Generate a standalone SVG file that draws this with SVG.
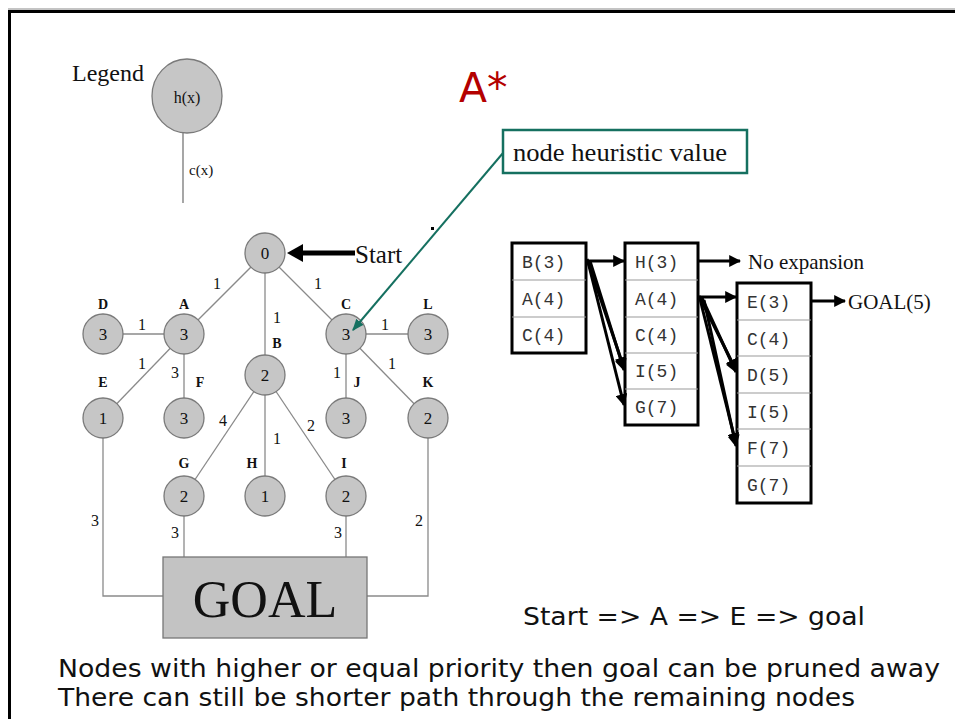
<svg xmlns="http://www.w3.org/2000/svg" width="955" height="719" viewBox="0 0 955 719">
  <style>
    .serif { font-family: "Liberation Serif", "Times New Roman", serif; fill: #111; }
    .sans { font-family: "DejaVu Sans", Verdana, sans-serif; fill: #111; }
    .mono { font-family: "Liberation Mono", "Courier New", monospace; fill: #333; font-size: 18px; }
    .node circle { fill: #c6c6c6; stroke: #7a7a7a; stroke-width: 1.3; }
    .node .val { font-size: 17px; text-anchor: middle; }
    .node .name { font-size: 14px; font-weight: bold; text-anchor: middle; }
    .edge { stroke: #8a8a8a; stroke-width: 1.3; fill: none; }
    .cost { font-size: 16px; text-anchor: middle; fill: #111; }
    .qbox { fill: #fff; stroke: #000; stroke-width: 3; }
    .qdiv { stroke: #999; stroke-width: 1; }
    .qarrow { stroke: #000; stroke-width: 3; fill: none; marker-end: url(#head); }
  </style>
  <defs>
    <marker id="head" viewBox="0 0 10 10" refX="9" refY="5" markerWidth="4" markerHeight="4" orient="auto" markerUnits="strokeWidth">
      <path d="M0,0 L10,5 L0,10 z" fill="#000"/>
    </marker>
    <marker id="greenhead" viewBox="0 0 10 10" refX="9" refY="5" markerWidth="6" markerHeight="6" orient="auto" markerUnits="strokeWidth">
      <path d="M0,1 L10,5 L0,9 z" fill="#157060"/>
    </marker>
  </defs>

  <!-- slide frame -->
  <rect x="9.5" y="11.5" width="1000" height="800" fill="#fff" stroke="#000" stroke-width="3"/>
  <line x1="8" y1="9" x2="955" y2="9" stroke="#888" stroke-width="1"/>

  <!-- title -->
  <text x="459" y="102" font-family="DejaVu Sans, Verdana, sans-serif" font-size="41" fill="#b40000">A*</text>

  <!-- legend -->
  <g id="legend">
    <text class="serif" x="72" y="81" font-size="24">Legend</text>
    <line x1="183" y1="133" x2="183" y2="203" stroke="#777" stroke-width="1.3"/>
    <ellipse cx="187" cy="96" rx="35" ry="37" fill="#c6c6c6" stroke="#7a7a7a" stroke-width="1.3"/>
    <text class="serif" x="187" y="103" font-size="16" text-anchor="middle">h(x)</text>
    <text class="serif" x="189" y="175" font-size="15">c(x)</text>
  </g>

  <!-- tree edges -->
  <g id="edges">
    <line class="edge" x1="265" y1="253" x2="184" y2="334"/>
    <line class="edge" x1="265" y1="253" x2="265" y2="375"/>
    <line class="edge" x1="265" y1="253" x2="346" y2="334"/>
    <line class="edge" x1="103" y1="334" x2="184" y2="334"/>
    <line class="edge" x1="184" y1="334" x2="103" y2="418"/>
    <line class="edge" x1="184" y1="334" x2="184" y2="418"/>
    <line class="edge" x1="346" y1="334" x2="428" y2="334"/>
    <line class="edge" x1="346" y1="334" x2="346" y2="418"/>
    <line class="edge" x1="346" y1="334" x2="428" y2="418"/>
    <line class="edge" x1="265" y1="375" x2="184" y2="496"/>
    <line class="edge" x1="265" y1="375" x2="265" y2="496"/>
    <line class="edge" x1="265" y1="375" x2="346" y2="496"/>
    <polyline class="edge" points="103,418 103,596 163,596"/>
    <polyline class="edge" points="428,418 428,596 367,596"/>
    <line class="edge" x1="184" y1="496" x2="184" y2="557"/>
    <line class="edge" x1="346" y1="496" x2="346" y2="557"/>

    <!-- edge costs -->
    <g class="serif">
      <text class="cost" x="217" y="289">1</text>
      <text class="cost" x="318" y="289">1</text>
      <text class="cost" x="277" y="323">1</text>
      <text class="cost" x="142" y="330">1</text>
      <text class="cost" x="385" y="330">1</text>
      <text class="cost" x="142" y="369">1</text>
      <text class="cost" x="175" y="378">3</text>
      <text class="cost" x="337" y="378">1</text>
      <text class="cost" x="392" y="369">1</text>
      <text class="cost" x="223" y="426">4</text>
      <text class="cost" x="311" y="431">2</text>
      <text class="cost" x="277" y="444">1</text>
      <text class="cost" x="95" y="526">3</text>
      <text class="cost" x="419" y="526">2</text>
      <text class="cost" x="175" y="538">3</text>
      <text class="cost" x="338" y="538">3</text>
    </g>

    <!-- start pointer -->
    <line x1="355" y1="253" x2="300" y2="253" stroke="#000" stroke-width="5"/>
    <polygon points="287,253 303,244 303,262" fill="#000"/>
  </g>

  <!-- tree nodes -->
  <g id="node-start" class="node serif">
    <circle cx="265" cy="253" r="20"/>
    <text class="val" x="265" y="259">0</text>
    <text x="355" y="263" font-size="25">Start</text>
  </g>
  <g id="node-a" class="node serif">
    <circle cx="184" cy="334" r="20"/>
    <text class="val" x="184" y="340">3</text>
    <text class="name" x="184" y="309">A</text>
  </g>
  <g id="node-b" class="node serif">
    <circle cx="265" cy="375" r="20"/>
    <text class="val" x="265" y="381">2</text>
    <text class="name" x="277" y="348">B</text>
  </g>
  <g id="node-c" class="node serif">
    <circle cx="346" cy="334" r="20"/>
    <text class="val" x="346" y="340">3</text>
    <text class="name" x="346" y="309">C</text>
  </g>
  <g id="node-d" class="node serif">
    <circle cx="103" cy="334" r="20"/>
    <text class="val" x="103" y="340">3</text>
    <text class="name" x="103" y="309">D</text>
  </g>
  <g id="node-l" class="node serif">
    <circle cx="428" cy="334" r="20"/>
    <text class="val" x="428" y="340">3</text>
    <text class="name" x="428" y="309">L</text>
  </g>
  <g id="node-e" class="node serif">
    <circle cx="103" cy="418" r="20"/>
    <text class="val" x="103" y="424">1</text>
    <text class="name" x="103" y="387">E</text>
  </g>
  <g id="node-f" class="node serif">
    <circle cx="184" cy="418" r="20"/>
    <text class="val" x="184" y="424">3</text>
    <text class="name" x="200" y="387">F</text>
  </g>
  <g id="node-j" class="node serif">
    <circle cx="346" cy="418" r="20"/>
    <text class="val" x="346" y="424">3</text>
    <text class="name" x="357" y="387">J</text>
  </g>
  <g id="node-k" class="node serif">
    <circle cx="428" cy="418" r="20"/>
    <text class="val" x="428" y="424">2</text>
    <text class="name" x="428" y="387">K</text>
  </g>
  <g id="node-g" class="node serif">
    <circle cx="184" cy="496" r="20"/>
    <text class="val" x="184" y="502">2</text>
    <text class="name" x="184" y="468">G</text>
  </g>
  <g id="node-h" class="node serif">
    <circle cx="265" cy="496" r="20"/>
    <text class="val" x="265" y="502">1</text>
    <text class="name" x="252" y="468">H</text>
  </g>
  <g id="node-i" class="node serif">
    <circle cx="346" cy="496" r="20"/>
    <text class="val" x="346" y="502">2</text>
    <text class="name" x="344" y="468">I</text>
  </g>
  <g id="node-goal">
    <rect x="163" y="557" width="204" height="81" fill="#c3c3c3" stroke="#777" stroke-width="1.3"/>
    <text class="serif" x="265" y="617" font-size="52" text-anchor="middle">GOAL</text>
  </g>

  <!-- callout -->
  <g id="callout">
    <rect x="503" y="130" width="244" height="43" fill="#fff" stroke="#157060" stroke-width="2.5"/>
    <text class="serif" x="513" y="161" font-size="25" textLength="214" lengthAdjust="spacingAndGlyphs">node heuristic value</text>
    <line x1="503" y1="153" x2="353" y2="330" stroke="#157060" stroke-width="2" marker-end="url(#greenhead)"/>
    <rect x="431" y="227" width="3" height="3" fill="#000"/>
  </g>

  <!-- priority queues -->
  <g id="queue-1">
    <rect class="qbox" x="512" y="243" width="74" height="110"/>
    <line class="qdiv" x1="512" y1="280" x2="586" y2="280"/>
    <line class="qdiv" x1="512" y1="317" x2="586" y2="317"/>
    <text class="mono" x="522" y="268">B(3)</text>
    <text class="mono" x="522" y="305">A(4)</text>
    <text class="mono" x="522" y="341">C(4)</text>
  </g>
  <g id="queue-2">
    <rect class="qbox" x="625" y="243" width="73" height="182"/>
    <line class="qdiv" x1="625" y1="280" x2="698" y2="280"/>
    <line class="qdiv" x1="625" y1="317" x2="698" y2="317"/>
    <line class="qdiv" x1="625" y1="353" x2="698" y2="353"/>
    <line class="qdiv" x1="625" y1="389" x2="698" y2="389"/>
    <text class="mono" x="635" y="268">H(3)</text>
    <text class="mono" x="635" y="305">A(4)</text>
    <text class="mono" x="635" y="341">C(4)</text>
    <text class="mono" x="635" y="377">I(5)</text>
    <text class="mono" x="635" y="413">G(7)</text>
  </g>
  <g id="queue-3">
    <rect class="qbox" x="737" y="283" width="74" height="220"/>
    <line class="qdiv" x1="737" y1="320" x2="811" y2="320"/>
    <line class="qdiv" x1="737" y1="356" x2="811" y2="356"/>
    <line class="qdiv" x1="737" y1="393" x2="811" y2="393"/>
    <line class="qdiv" x1="737" y1="429" x2="811" y2="429"/>
    <line class="qdiv" x1="737" y1="466" x2="811" y2="466"/>
    <text class="mono" x="747" y="308">E(3)</text>
    <text class="mono" x="747" y="345">C(4)</text>
    <text class="mono" x="747" y="381">D(5)</text>
    <text class="mono" x="747" y="418">I(5)</text>
    <text class="mono" x="747" y="454">F(7)</text>
    <text class="mono" x="747" y="491">G(7)</text>
  </g>
  <g id="no-expansion">
    <text class="serif" x="748" y="269" font-size="21">No expansion</text>
  </g>
  <g id="goal-5">
    <text class="serif" x="848" y="309" font-size="21">GOAL(5)</text>
  </g>

  <!-- queue connectors -->
  <g id="queue-connectors">
    <line class="qarrow" x1="586" y1="261" x2="624" y2="261"/>
    <line class="qarrow" x1="587" y1="259" x2="624" y2="368"/>
    <line class="qarrow" x1="590" y1="261" x2="624" y2="370"/>
    <line class="qarrow" x1="588" y1="262" x2="624" y2="405"/>
    <line class="qarrow" x1="698" y1="261" x2="740" y2="261"/>
    <line class="qarrow" x1="698" y1="297" x2="736" y2="297"/>
    <line class="qarrow" x1="699" y1="296" x2="736" y2="370"/>
    <line class="qarrow" x1="702" y1="298" x2="736" y2="372"/>
    <line class="qarrow" x1="700" y1="299" x2="736" y2="444"/>
    <line class="qarrow" x1="704" y1="300" x2="736" y2="446"/>
    <line class="qarrow" x1="811" y1="301" x2="845" y2="301"/>
  </g>

  <!-- result and notes -->
  <text class="sans" x="523" y="625" font-size="24" textLength="342" lengthAdjust="spacingAndGlyphs">Start =&gt; A =&gt; E =&gt; goal</text>
  <text class="sans" x="58" y="677" font-size="24" textLength="882" lengthAdjust="spacingAndGlyphs">Nodes with higher or equal priority then goal can be pruned away</text>
  <text class="sans" x="58" y="706" font-size="24" textLength="797" lengthAdjust="spacingAndGlyphs">There can still be shorter path through the remaining nodes</text>
</svg>
